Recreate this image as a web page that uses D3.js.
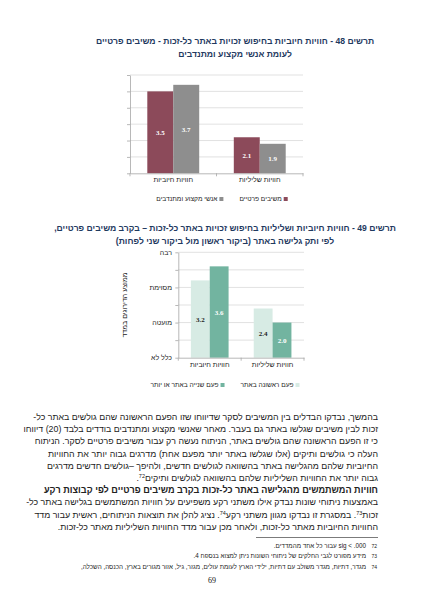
<!DOCTYPE html>
<html>
<head>
<meta charset="utf-8">
<script src="https://cdn.jsdelivr.net/npm/d3@7"></script>
<style>
  body { margin: 0; background: #fff; }
  #page { position: relative; width: 424px; height: 600px; overflow: hidden; font-family: "Liberation Sans", Arial, sans-serif; }
  svg { position: absolute; left: 0; top: 0; }
  .line { position: absolute; direction: rtl; white-space: nowrap; font-size: 8.8px; color: #222; line-height: 12px; }
  .line.full { text-align: justify; text-align-last: justify; }
  .line sup { font-size: 5.5px; vertical-align: 3px; line-height: 0; }
  .fn { position: absolute; direction: rtl; white-space: nowrap; font-size: 6.3px; color: #222; line-height: 10px; }
  .pagenum { position: absolute; left: 202px; width: 20px; top: 576px; text-align: center; font-family: "Liberation Serif", serif; font-size: 8px; color: #111; }
</style>
</head>
<body>
<div id="page"></div>
<script>
const width = 424;
const height = 600;

// data
const categories = ["חוויות חיוביות", "חוויות שליליות"];
const chart1Series = ["משיבים פרטיים", "אנשי מקצוע ומתנדבים"];
const chart1Values = [[3.5, 2.1], [3.7, 1.9]];
const chart2Series = ["פעם ראשונה באתר", "פעם שנייה באתר או יותר"];
const chart2Values = [[3.2, 2.4], [3.6, 2.0]];
const yDomain = [1, 4];
const gridStep = 0.5;
const chart2TickValues = [1, 2, 3, 4];
const chart2TickLabels = ["כלל לא", "מועטה", "מסוימת", "רבה"];
const chart2AxisTitle = "ממוצע הדירוגים במדד";

const chart1Title = ["תרשים 48 - חוויות חיוביות בחיפוש זכויות באתר כל-זכות - משיבים פרטיים", "לעומת אנשי מקצוע ומתנדבים"];
const chart2Title = ["תרשים 49 - חוויות חיוביות ושליליות בחיפוש זכויות באתר כל-זכות – בקרב משיבים פרטיים,", "לפי ותק גלישה באתר (ביקור ראשון מול ביקור שני לפחות)"];

const paragraph1 = [
  "בהמשך, נבדקו הבדלים בין המשיבים לסקר שדיווחו שזו הפעם הראשונה שהם גולשים באתר כל-",
  "זכות לבין משיבים שגלשו באתר גם בעבר. מאחר שאנשי מקצוע ומתנדבים בודדים בלבד (20) דיווחו",
  "כי זו הפעם הראשונה שהם גולשים באתר, הניתוח נעשה רק עבור משיבים פרטיים לסקר. הניתוח",
  "העלה כי גולשים ותיקים (אלו שגלשו באתר יותר מפעם אחת) מדרגים גבוה יותר את החוויות",
  "החיוביות שלהם מהגלישה באתר בהשוואה לגולשים חדשים, ולהיפך –גולשים חדשים מדרגים",
  "גבוה יותר את החוויות השליליות שלהם בהשוואה לגולשים ותיקים^72."
];
const heading = "חוויות המשתמשים מהגלישה באתר כל-זכות בקרב משיבים פרטיים לפי קבוצות רקע";
const paragraph2 = [
  "באמצעות ניתוחי שונות נבדק אילו משתני רקע משפיעים על חוויות המשתמשים בגלישה באתר כל-",
  "זכות^73. במסגרת זו נבדקו מגוון משתני רקע^74. נציג להלן את תוצאות הניתוחים, ראשית עבור מדד",
  "החוויות החיוביות מאתר כל-זכות, ולאחר מכן עבור מדד החוויות השליליות מאתר כל-זכות."
];
const footnoteNumbers = ["72", "73", "74"];
const footnotes = [
  "sig < .000 עבור כל אחד מהמדדים.",
  "מידע מפורט לגבי החלקים של ניתוחי השונות ניתן למצוא בנספח 4.",
  "מגדר, דתיות, מגדר משולב עם דתיות, ילידי הארץ לעומת עולים, מגזר, גיל, אזור מגורים בארץ, הכנסה, השכלה,"
];
const pageNumber = "69";

const page = d3.select("#page");
const svg = page.append("svg").attr("width", width).attr("height", height);

// places a text so that its right edge sits at x, whatever direction the browser picks
function rightText(sel, x) {
  const w = sel.node().getComputedTextLength();
  sel.attr("text-anchor", "middle").attr("x", x - w / 2);
  return w;
}

function drawTitle(lines, cx, y0) {
  lines.forEach((t, i) => {
    svg.append("text")
      .attr("x", cx)
      .attr("y", y0 + i * 13)
      .attr("text-anchor", "middle")
      .attr("direction", "rtl")
      .attr("font-size", 8.6)
      .attr("font-weight", "bold")
      .attr("fill", "#1f3a5f")
      .text(t);
  });
}

function drawChart(opt) {
  const g = svg.append("g");
  const y = d3.scaleLinear().domain(yDomain).range([opt.bottom, opt.top]);
  const x0 = d3.scaleBand().domain(categories).range([opt.left, opt.right]);
  const bw = x0.bandwidth();
  const x1 = d3.scaleBand().domain(opt.series).range([bw * 0.2, bw * 0.8]);

  const grid = d3.range(yDomain[0] + gridStep, yDomain[1] + 0.001, gridStep);
  g.selectAll(".grid")
    .data(grid)
    .enter()
    .append("line")
    .attr("x1", opt.left)
    .attr("x2", opt.right)
    .attr("y1", d => y(d))
    .attr("y2", d => y(d))
    .attr("stroke", "#d9d9d9")
    .attr("stroke-width", 0.8);

  // left axis with ticks
  const left = g.append("g")
    .attr("transform", `translate(${opt.left},0)`)
    .call(d3.axisLeft(y).tickValues(d3.range(yDomain[0], yDomain[1] + 0.001, gridStep)).tickFormat("").tickSize(3).tickSizeOuter(0));
  left.selectAll("path, line").attr("stroke", "#a6a6a6").attr("stroke-width", 0.8);

  categories.forEach((c, ci) => {
    opt.series.forEach((s, si) => {
      const v = opt.values[si][ci];
      g.append("rect")
        .attr("x", x0(c) + x1(s))
        .attr("y", y(v))
        .attr("width", x1.bandwidth())
        .attr("height", y(yDomain[0]) - y(v))
        .attr("fill", opt.colors[si]);
      g.append("text")
        .attr("x", x0(c) + x1(s) + x1.bandwidth() / 2)
        .attr("y", (y(v) + y(yDomain[0])) / 2 + 2.5)
        .attr("text-anchor", "middle")
        .attr("font-family", "Liberation Serif, serif")
        .attr("font-size", 7)
        .attr("font-weight", "bold")
        .attr("fill", opt.labelColors[si])
        .text(d3.format(".1f")(v));
    });
  });

  // bottom axis
  const bottom = g.append("g")
    .attr("transform", `translate(0,${opt.bottom})`)
    .call(d3.axisBottom(x0).tickSize(0).tickSizeOuter(0));
  bottom.select("path").attr("stroke", "#a6a6a6").attr("stroke-width", 0.8);
  bottom.selectAll("text")
    .attr("font-family", "Liberation Sans, Arial, sans-serif")
    .attr("font-size", 7)
    .attr("fill", "#222")
    .attr("dy", 0)
    .attr("y", 9);
  g.selectAll(".btick")
    .data(d3.range(categories.length + 1))
    .enter()
    .append("line")
    .attr("x1", i => opt.left + i * bw)
    .attr("x2", i => opt.left + i * bw)
    .attr("y1", opt.bottom)
    .attr("y2", opt.bottom + 3)
    .attr("stroke", "#a6a6a6")
    .attr("stroke-width", 0.8);

  // legend (rtl: first series on the right, marker right of its text)
  const leg = g.append("g");
  const items = [];
  opt.series.forEach((s, si) => {
    const it = leg.append("g");
    it.append("rect").attr("x", -4).attr("y", -4).attr("width", 4).attr("height", 4).attr("fill", opt.colors[si]);
    const t = it.append("text")
      .attr("y", 0)
      .attr("font-size", 6.6)
      .attr("fill", "#222")
      .text(s);
    const w = rightText(t, -6) + 6;
    items.push({ it, w });
  });
  const gap = 16;
  const total = d3.sum(items, d => d.w) + gap * (items.length - 1);
  let cursor = opt.legendX + total / 2;
  items.forEach(d => {
    d.it.attr("transform", `translate(${cursor},${opt.legendY})`);
    cursor -= d.w + gap;
  });
  return { y };
}

drawTitle(chart1Title, 235, 44);
drawChart({
  left: 130, right: 303, top: 75, bottom: 173.3,
  series: chart1Series, values: chart1Values,
  colors: ["#8c4a5a", "#8e8e8e"],
  labelColors: ["#fff", "#fff"],
  legendX: 222, legendY: 201
});

drawTitle(chart2Title, 225, 231);
const c2 = drawChart({
  left: 178.3, right: 304, top: 252.3, bottom: 357.7,
  series: chart2Series, values: chart2Values,
  colors: ["#d7ebe4", "#72b4a0"],
  labelColors: ["#222", "#fff"],
  legendX: 225, legendY: 387
});
chart2TickValues.forEach((v, i) => {
  const t = svg.append("text")
    .attr("y", c2.y(v) + 2.5)
    .attr("font-size", 7)
    .attr("fill", "#222")
    .text(chart2TickLabels[i]);
  rightText(t, 172);
});
svg.append("text")
  .attr("transform", `translate(127,305) rotate(-90)`)
  .attr("text-anchor", "middle")
  .attr("font-size", 7)
  .attr("fill", "#222")
  .text(chart2AxisTitle);

// body text
const textRight = 46;
const textWidth = 330;
const lineTop = 411;
const lineStep = 12.2;
function supHtml(s) {
  return s.replace(/\^(\d+)/g, "<sup>$1</sup>");
}
const bodyLines = [];
paragraph1.forEach((l, i) => bodyLines.push({ t: l, full: i < paragraph1.length - 1, bold: false }));
bodyLines.push({ t: heading, full: false, bold: true });
paragraph2.forEach((l, i) => bodyLines.push({ t: l, full: i < paragraph2.length - 1, bold: false }));
bodyLines.forEach((d, i) => {
  page.append("div")
    .attr("class", "line" + (d.full ? " full" : ""))
    .style("right", textRight + "px")
    .style("width", textWidth + "px")
    .style("top", (lineTop + i * lineStep) + "px")
    .style("font-weight", d.bold ? "bold" : "normal")
    .style("font-size", d.bold ? "9.1px" : null)
    .style("text-align", d.full ? null : "right")
    .html(supHtml(d.t));
});

// footnotes
svg.append("line")
  .attr("x1", 256).attr("x2", 378)
  .attr("y1", 537.5).attr("y2", 537.5)
  .attr("stroke", "#222").attr("stroke-width", 0.6);
footnotes.forEach((f, i) => {
  page.append("div")
    .attr("class", "fn")
    .style("right", "47px")
    .style("top", (541 + i * 10.3) + "px")
    .style("font-size", "5px")
    .text(footnoteNumbers[i]);
  page.append("div")
    .attr("class", "fn")
    .style("right", "58px")
    .style("top", (541 + i * 10.3) + "px")
    .text(f);
});
page.append("div")
  .attr("class", "pagenum")
  .text(pageNumber);
</script>
</body>
</html>
